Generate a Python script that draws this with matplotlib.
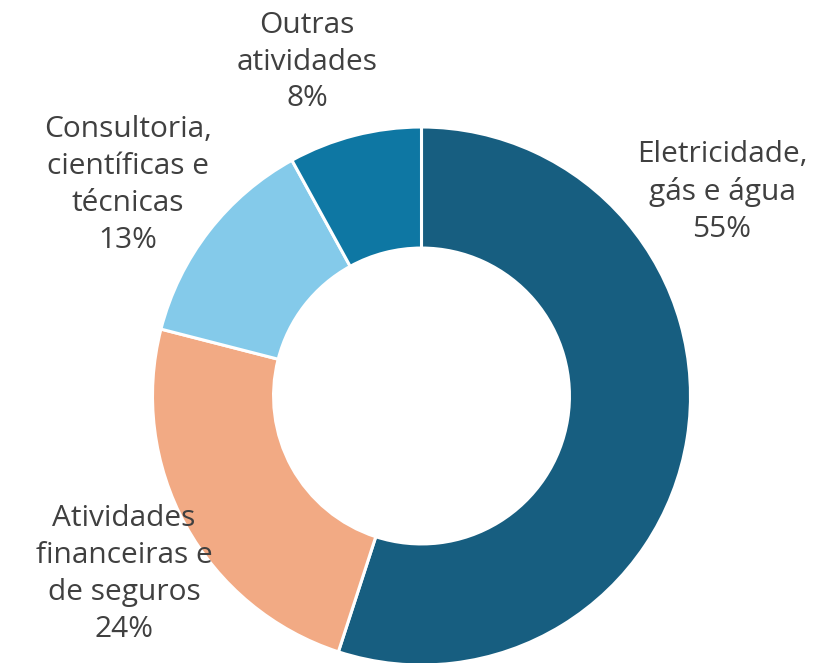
import matplotlib.pyplot as plt

# dados do gráfico
setores = ['Eletricidade,\ngás e água', 'Atividades\nfinanceiras e\nde seguros',
           'Consultoria,\ncientíficas e\ntécnicas', 'Outras\natividades']
valores = [55, 24, 13, 8]
cores = ['#175E80', '#F2AA84', '#84CAEA', '#0E77A3']

# posição dos rótulos (em pixels da figura, centro do texto)
rotulos_px = [(722, 192), (124, 574), (128, 185), (307, 62)]

plt.rcParams['font.family'] = ['Open Sans', 'DejaVu Sans']

W, H = 828, 663
cx, cy, R = 421.5, 396, 269

fig = plt.figure(figsize=(W / 100, H / 100), dpi=100)
ax = fig.add_axes([0, 0, 1, 1])
ax.axis('off')

ax.pie(valores, colors=cores, startangle=90, counterclock=False, radius=1,
       wedgeprops=dict(width=0.45, edgecolor='white', linewidth=2.2))

for nome, v, (px, py) in zip(setores, valores, rotulos_px):
    ax.text((px - cx) / R, (cy - py) / R, f'{nome}\n{v}%', ha='center', va='center',
            fontsize=21.5, color='#404040', linespacing=1.36, multialignment='center')

ax.set_xlim(-cx / R, (W - cx) / R)
ax.set_ylim(-(H - cy) / R, cy / R)
ax.set_aspect('auto')

plt.savefig('out.png', dpi=100)
